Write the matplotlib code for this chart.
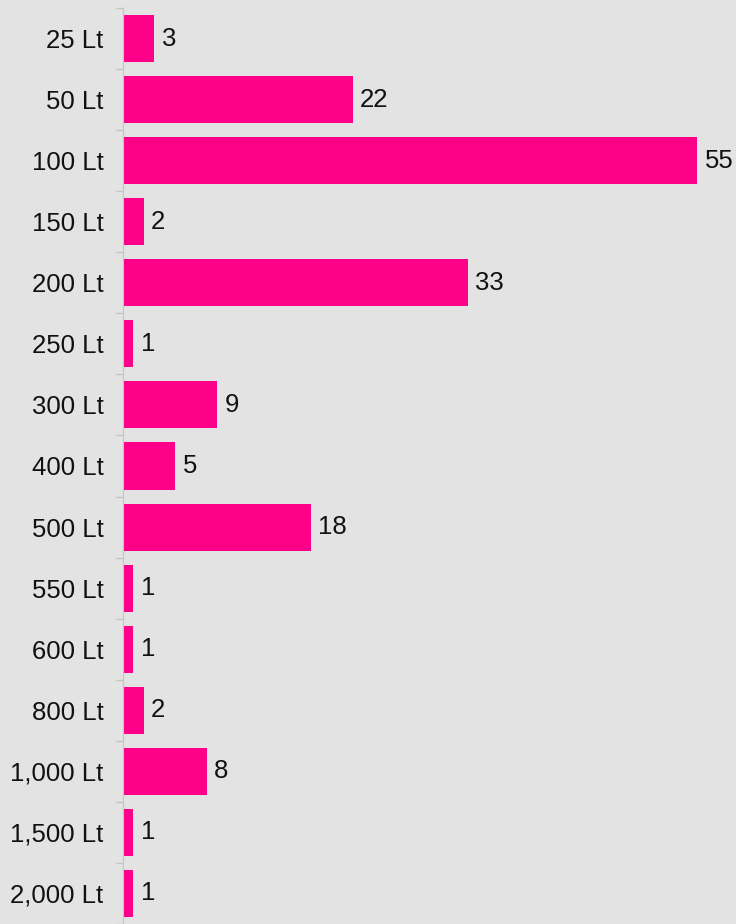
import matplotlib.pyplot as plt
import numpy as np

categories = ['25 Lt', '50 Lt', '100 Lt', '150 Lt', '200 Lt', '250 Lt', '300 Lt', '400 Lt',
              '500 Lt', '550 Lt', '600 Lt', '800 Lt', '1,000 Lt', '1,500 Lt', '2,000 Lt']
values = [3, 22, 55, 2, 33, 1, 9, 5, 18, 1, 1, 2, 8, 1, 1]

plt.rcParams['font.family'] = ['Liberation Sans', 'DejaVu Sans']

fig = plt.figure(figsize=(7.36, 9.24), dpi=100)
fig.patch.set_facecolor('#e3e3e3')
ax = fig.add_axes([123 / 736, 0, 1 - 123 / 736, 1 - 8 / 924])
ax.set_facecolor('#e3e3e3')

y = np.arange(len(categories))
ax.barh(y, values, height=0.77, color='#ff0088')
for yi, v in zip(y, values):
    ax.text(v + 0.7, yi, str(v), va='center', ha='left', fontsize=18.5, color='#111111')

ax.set_xlim(0, 58.7)
ax.set_ylim(len(categories) - 0.5, -0.5)
ax.set_xticks([])
ax.set_yticks(y)
ax.set_yticklabels(categories, fontsize=18.5, color='#111111')
ax.set_yticks(np.arange(len(categories) + 1) - 0.5, minor=True)
ax.tick_params(axis='y', which='major', length=0, pad=14)
ax.tick_params(axis='y', which='minor', length=5, color='#c4c4c4', width=1)

for s in ['top', 'right', 'bottom']:
    ax.spines[s].set_visible(False)
ax.spines['left'].set_color('#c4c4c4')

fig.savefig('out.png', dpi=100, facecolor=fig.get_facecolor())
